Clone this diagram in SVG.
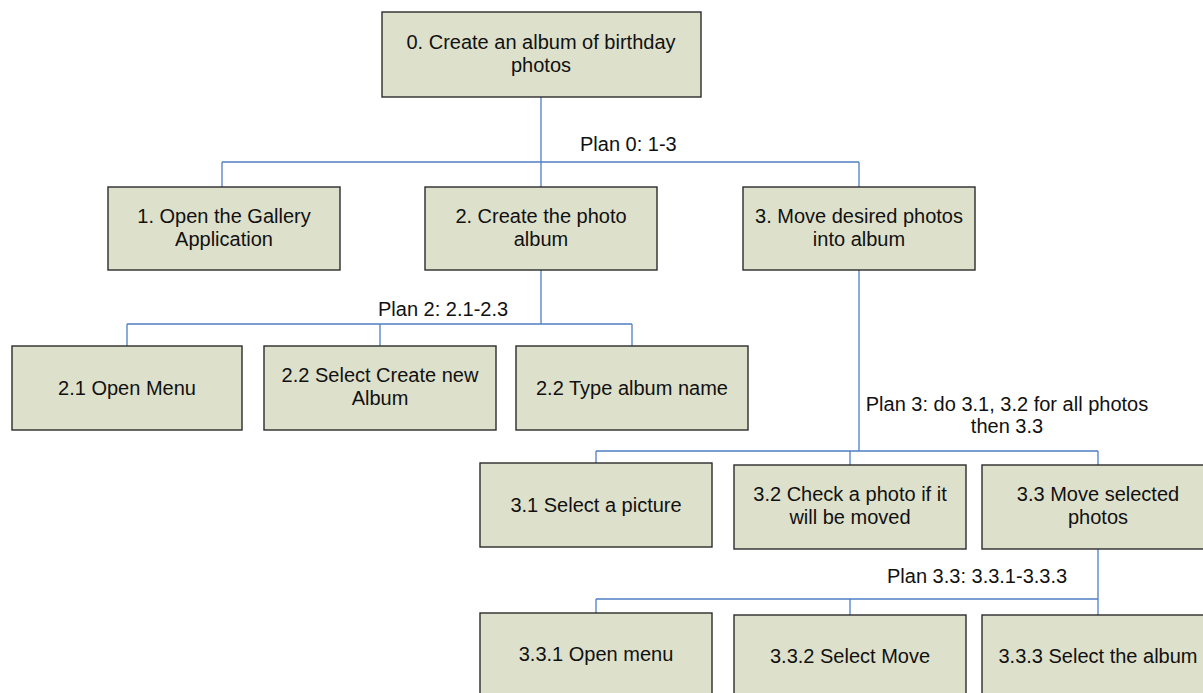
<svg xmlns="http://www.w3.org/2000/svg" width="1203" height="693" viewBox="0 0 1203 693">
<style>
.box{fill:#dde0cb;stroke:#2b2b2b;stroke-width:1.4}
.t{font-family:"Liberation Sans",Arial,sans-serif;font-size:20px;fill:#111;text-anchor:middle}
.p{font-family:"Liberation Sans",Arial,sans-serif;font-size:20px;fill:#111}
.c{fill:none;stroke:#4f7fc4;stroke-width:1.3}
</style>
<rect width="1203" height="693" fill="#fff"/>
<g id="connectors">
<path class="c" d="M541 97V162M222 162H859M222 162V187M541 162V187M859 162V187"/>
<path class="c" d="M541 270V324M127 324H632M127 324V346M380 324V346M632 324V346"/>
<path class="c" d="M859 270V451M596 451H1098M596 451V463M850 451V465M1098 451V465"/>
<path class="c" d="M1098 549V599M596 599H1098M596 599V613M850 599V615M1098 599V615"/>
<text class="p" x="580" y="151">Plan 0: 1-3</text>
<text class="p" x="378" y="316">Plan 2: 2.1-2.3</text>
<text class="t" x="1007" y="411">Plan 3: do 3.1, 3.2 for all photos</text>
<text class="t" x="1007" y="433">then 3.3</text>
<text class="p" x="887" y="583">Plan 3.3: 3.3.1-3.3.3</text>
</g>
<g id="n0"><rect class="box" x="382" y="12" width="319" height="85"/><text class="t" x="541" y="49">0. Create an album of birthday</text><text class="t" x="541" y="72">photos</text></g>
<g id="n1"><rect class="box" x="108" y="187" width="232" height="83"/><text class="t" x="224" y="223">1. Open the Gallery</text><text class="t" x="224" y="246">Application</text></g>
<g id="n2"><rect class="box" x="425" y="187" width="232" height="83"/><text class="t" x="541" y="223">2. Create the photo</text><text class="t" x="541" y="246">album</text></g>
<g id="n3"><rect class="box" x="743" y="187" width="232" height="83"/><text class="t" x="859" y="223">3. Move desired photos</text><text class="t" x="859" y="246">into album</text></g>
<g id="n21"><rect class="box" x="12" y="346" width="230" height="84"/><text class="t" x="127" y="395">2.1 Open Menu</text></g>
<g id="n22"><rect class="box" x="264" y="346" width="232" height="84"/><text class="t" x="380" y="382">2.2 Select Create new</text><text class="t" x="380" y="405">Album</text></g>
<g id="n23"><rect class="box" x="516" y="346" width="232" height="84"/><text class="t" x="632" y="395">2.2 Type album name</text></g>
<g id="n31"><rect class="box" x="480" y="463" width="232" height="84"/><text class="t" x="596" y="512">3.1 Select a picture</text></g>
<g id="n32"><rect class="box" x="734" y="465" width="232" height="84"/><text class="t" x="850" y="501">3.2 Check a photo if it</text><text class="t" x="850" y="524">will be moved</text></g>
<g id="n33"><rect class="box" x="982" y="465" width="232" height="84"/><text class="t" x="1098" y="501">3.3 Move selected</text><text class="t" x="1098" y="524">photos</text></g>
<g id="n331"><rect class="box" x="480" y="613" width="232" height="84"/><text class="t" x="596" y="661">3.3.1 Open menu</text></g>
<g id="n332"><rect class="box" x="734" y="615" width="232" height="84"/><text class="t" x="850" y="663">3.3.2 Select Move</text></g>
<g id="n333"><rect class="box" x="982" y="615" width="232" height="84"/><text class="t" x="1098" y="663">3.3.3 Select the album</text></g>
</svg>
